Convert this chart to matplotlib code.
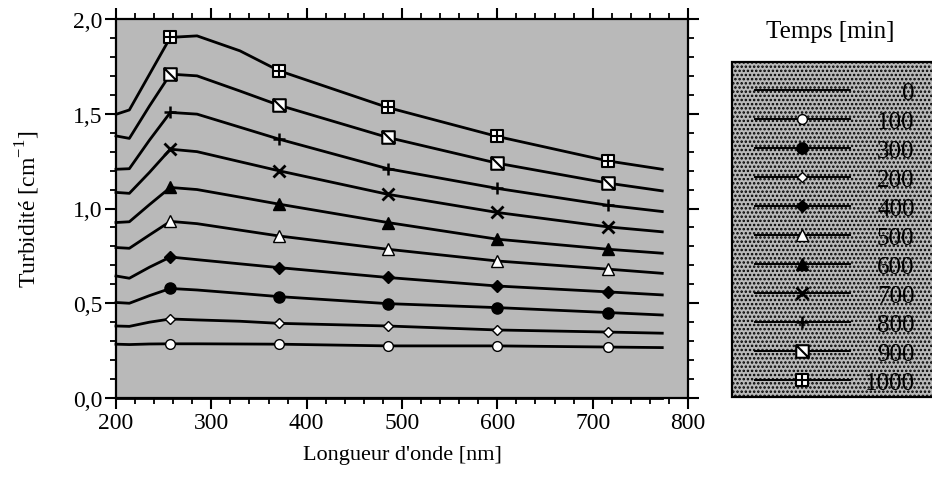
import numpy as np
import matplotlib
matplotlib.use("Agg")
import matplotlib.pyplot as plt
from matplotlib.path import Path
from matplotlib.patches import Rectangle
from matplotlib.ticker import MultipleLocator

# ============================================================
#  Donnees
# ============================================================

longueur = [200, 214, 235, 257, 285, 330, 371, 485, 600, 716, 773]
marques = [3, 6, 7, 8, 9]          # indices des points marques

temps = ["0", "100", "300", "200", "400", "500", "600", "700", "800", "900", "1000"]

t0    = [0.0, 0.0, 0.0, 0.0, 0.0, 0.0, 0.0, 0.0, 0.0, 0.0, 0.0]
t100  = [0.284, 0.282, 0.285, 0.286, 0.286, 0.285, 0.284, 0.275, 0.275, 0.269, 0.266]
t300  = [0.504, 0.500, 0.540, 0.578, 0.570, 0.552, 0.535, 0.498, 0.477, 0.451, 0.438]
t200  = [0.380, 0.378, 0.400, 0.417, 0.412, 0.405, 0.394, 0.380, 0.359, 0.348, 0.342]
t400  = [0.644, 0.632, 0.690, 0.744, 0.730, 0.708, 0.688, 0.636, 0.591, 0.560, 0.544]
t500  = [0.794, 0.790, 0.860, 0.932, 0.920, 0.886, 0.855, 0.785, 0.723, 0.680, 0.658]
t600  = [0.926, 0.930, 1.020, 1.111, 1.100, 1.060, 1.023, 0.926, 0.838, 0.785, 0.764]
t700  = [1.085, 1.080, 1.190, 1.313, 1.300, 1.247, 1.199, 1.075, 0.979, 0.903, 0.877]
t800  = [1.207, 1.210, 1.360, 1.507, 1.498, 1.429, 1.366, 1.210, 1.106, 1.017, 0.984]
t900  = [1.383, 1.370, 1.540, 1.709, 1.700, 1.620, 1.545, 1.375, 1.239, 1.134, 1.093]
t1000 = [1.497, 1.520, 1.707, 1.903, 1.911, 1.832, 1.727, 1.533, 1.380, 1.251, 1.207]

series = [t0, t100, t300, t200, t400, t500, t600, t700, t800, t900, t1000]

xticks = [200, 300, 400, 500, 600, 700, 800]
yticks = [0.0, 0.5, 1.0, 1.5, 2.0]
ytick_labels = ["0,0", "0,5", "1,0", "1,5", "2,0"]

# ============================================================
#  Marqueurs speciaux (carre barre, carre croise)
# ============================================================

carre_barre = Path(
    [(-1, -1), (1, -1), (1, 1), (-1, 1), (-1, -1), (-1, 1), (1, -1)],
    [Path.MOVETO, Path.LINETO, Path.LINETO, Path.LINETO, Path.CLOSEPOLY,
     Path.MOVETO, Path.LINETO],
)
carre_croix = Path(
    [(-1, -1), (1, -1), (1, 1), (-1, 1), (-1, -1),
     (0, -1), (0, 1), (-1, 0), (1, 0)],
    [Path.MOVETO, Path.LINETO, Path.LINETO, Path.LINETO, Path.CLOSEPOLY,
     Path.MOVETO, Path.LINETO, Path.MOVETO, Path.LINETO],
)

styles = [
    dict(marker="None"),
    dict(marker="o", ms=7, mfc="white"),
    dict(marker="o", ms=8, mfc="black"),
    dict(marker="D", ms=5.5, mfc="white"),
    dict(marker="D", ms=6, mfc="black"),
    dict(marker="^", ms=8, mfc="white"),
    dict(marker="^", ms=8.5, mfc="black"),
    dict(marker="x", ms=8, mew=2.0),
    dict(marker="+", ms=9, mew=1.8),
    dict(marker=carre_barre, ms=9, mfc="white", mew=1.5),
    dict(marker=carre_croix, ms=9, mfc="white", mew=1.5),
]

# ============================================================
#  Style
# ============================================================

plt.rcParams.update({
    "font.family": "Liberation Serif",
    "mathtext.fontset": "custom",
    "mathtext.rm": "Liberation Serif",
    "font.size": 17,
    "axes.linewidth": 1.6,
    "hatch.color": "#1e1e1e",
    "hatch.linewidth": 1.2,
})

fig = plt.figure(figsize=(9.32, 4.81), dpi=100)
ax = fig.add_axes([116 / 932, 1 - 399 / 481, 572 / 932, 379 / 481])

fond = "#b9b9b9"
ax.patch.set_facecolor(fond)
ax.patch.set_hatch("....")

handles = []
for y, lab, st in zip(series, temps, styles):
    ln, = ax.plot(longueur, y, color="black", lw=2.0, mec="black",
                  markevery=marques, clip_on=False, label=lab,
                  zorder=3, **st)
    handles.append(ln)

ax.set_xlim(200, 800)
ax.set_ylim(0, 2.0)
ax.set_xticks(xticks)
ax.set_yticks(yticks)
ax.set_yticklabels(ytick_labels)
ax.xaxis.set_minor_locator(MultipleLocator(20))
ax.yaxis.set_minor_locator(MultipleLocator(0.1))
ax.tick_params(which="major", direction="out", top=True, right=True,
               length=8, width=1.5, labelsize=17, pad=2)
ax.tick_params(which="minor", direction="out", top=True, right=True,
               length=4, width=1.3)

ax.set_xlabel("Longueur d'onde [nm]", fontsize=16, labelpad=9)
ax.set_ylabel(r"Turbidité [cm$^{\mathregular{-1}}$]", fontsize=17, labelpad=22)

# ============================================================
#  Legende
# ============================================================

cadre = Rectangle((732 / 932, 1 - 398 / 481), 0.3, (398 - 63) / 481,
                  transform=fig.transFigure, facecolor=fond,
                  edgecolor="black", lw=1.6, hatch="....", clip_on=False)
fig.patches.append(cadre)

fig.text(830 / 932, 1 - 32 / 481, "Temps [min]", ha="center", va="center",
         fontsize=18)

leg = fig.legend(handles, temps, loc="upper left",
                 bbox_to_anchor=(742 / 932, 1 - 70 / 481),
                 frameon=False, fontsize=18, handlelength=3.8,
                 handletextpad=0.6, labelspacing=0.26, borderpad=0,
                 numpoints=1)
for h in leg.legend_handles:
    h.set_linewidth(1.4)

# Alignement a droite des etiquettes de la legende
fig.canvas.draw()
textes = leg.get_texts()
largeurs = [t.get_window_extent().width for t in textes]
wmax = max(largeurs)
for t, w in zip(textes, largeurs):
    t.set_position((wmax - w, 0))

fig.savefig("out.png", dpi=100)
